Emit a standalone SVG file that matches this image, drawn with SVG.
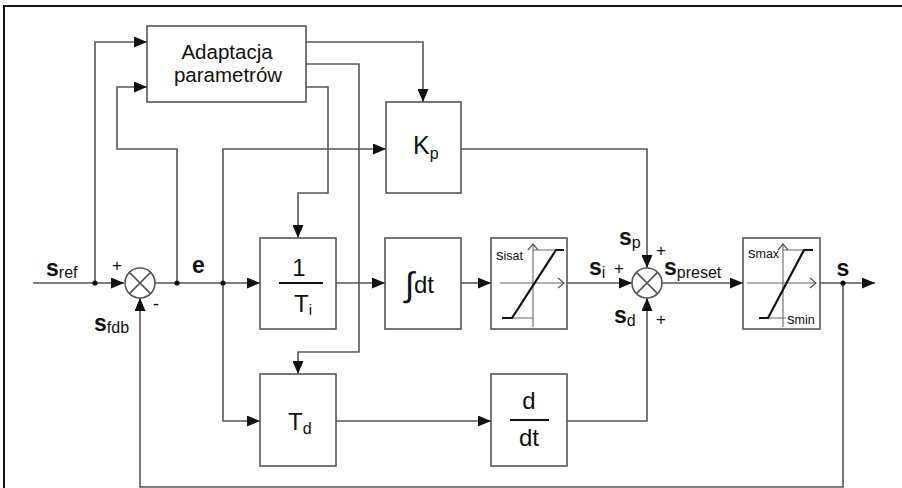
<svg xmlns="http://www.w3.org/2000/svg" width="902" height="488" viewBox="0 0 902 488">
<style>
.blk{fill:#fff;stroke:#5a5555;stroke-width:1.6}
.ln{fill:none;stroke:#5a5555;stroke-width:1.6}
.thin{fill:none;stroke:#6a6565;stroke-width:1.1}
.curve{fill:none;stroke:#111;stroke-width:2.2}
.t{font-family:"Liberation Sans",Arial,sans-serif;fill:#111}
.lab{font-family:"Liberation Sans",Arial,sans-serif;fill:#111;font-size:23px;font-weight:bold}
.sub{font-size:16px;font-weight:normal}
.dot{fill:#111}
</style>
<defs>
<marker id="ah" markerUnits="userSpaceOnUse" markerWidth="13" markerHeight="11" refX="13" refY="5.5" orient="auto">
<path d="M0,0 L13,5.5 L0,11 z" fill="#111"/>
</marker>
<marker id="oa" markerUnits="userSpaceOnUse" markerWidth="8" markerHeight="12" refX="7" refY="6" orient="auto">
<path d="M1,1 L7,6 L1,11" fill="none" stroke="#555" stroke-width="1.2"/>
</marker>
</defs>
<rect width="902" height="488" fill="#fff"/>
<path d="M4,488 V6 H902" fill="none" stroke="#111" stroke-width="2"/>

<g id="connectors">
<path class="ln" d="M33,283 H124" marker-end="url(#ah)"/>
<path class="ln" d="M95,283 V42 H147" marker-end="url(#ah)"/>
<path class="ln" d="M177,283 V149 H117 V87 H147" marker-end="url(#ah)"/>
<path class="ln" d="M155,283 H260" marker-end="url(#ah)"/>
<path class="ln" d="M223,283 V421 H260" marker-end="url(#ah)"/>
<path class="ln" d="M223,283 V149 H386" marker-end="url(#ah)"/>
<path class="ln" d="M306,42 H423 V102" marker-end="url(#ah)"/>
<path class="ln" d="M306,64 H359 V352 H298 V374" marker-end="url(#ah)"/>
<path class="ln" d="M306,87 H328 V193 H298 V238" marker-end="url(#ah)"/>
<path class="ln" d="M336,283 H385" marker-end="url(#ah)"/>
<path class="ln" d="M461,283 H491" marker-end="url(#ah)"/>
<path class="ln" d="M567,283 H632" marker-end="url(#ah)"/>
<path class="ln" d="M461,149 H647 V268" marker-end="url(#ah)"/>
<path class="ln" d="M336,421 H491" marker-end="url(#ah)"/>
<path class="ln" d="M567,421 H647 V298" marker-end="url(#ah)"/>
<path class="ln" d="M662,283 H743" marker-end="url(#ah)"/>
<path class="ln" d="M820,283 H875" marker-end="url(#ah)"/>
<path class="ln" d="M843,283 V487 H140 V298" marker-end="url(#ah)"/>
<circle class="dot" cx="95" cy="283" r="2.6"/>
<circle class="dot" cx="177" cy="283" r="2.6"/>
<circle class="dot" cx="223" cy="283" r="2.6"/>
<circle class="dot" cx="843" cy="283" r="2.6"/>
</g>

<g id="sum1">
<circle class="blk" cx="140" cy="283" r="15"/>
<path class="ln" d="M129.4,272.4 L150.6,293.6 M150.6,272.4 L129.4,293.6"/>
<text class="t" x="117" y="271" font-size="17" text-anchor="middle">+</text>
<text class="t" x="156" y="310" font-size="19" text-anchor="middle">-</text>
</g>

<g id="adaptacja">
<rect class="blk" x="147" y="26" width="159" height="76"/>
<text class="t" x="227" y="59" font-size="20.5" text-anchor="middle">Adaptacja</text>
<text class="t" x="228" y="82" font-size="20.5" text-anchor="middle">parametrów</text>
</g>

<g id="kp">
<rect class="blk" x="386" y="102" width="75" height="91"/>
<text class="t" x="413" y="154" font-size="25">K<tspan font-size="16" dy="5">p</tspan></text>
</g>

<g id="ti">
<rect class="blk" x="260" y="238" width="76" height="91"/>
<text class="t" x="299" y="276" font-size="24" text-anchor="middle">1</text>
<path d="M279,283 H323" stroke="#111" stroke-width="2"/>
<text class="t" x="294" y="312" font-size="24">T<tspan font-size="15" dy="3">i</tspan></text>
</g>

<g id="integral">
<rect class="blk" x="385" y="238" width="76" height="91"/>
<text class="t" x="405" y="296" font-size="34">∫</text>
<text class="t" x="414" y="293" font-size="24">dt</text>
</g>

<g id="sat1">
<rect class="blk" x="491" y="238" width="76" height="91"/>
<path class="thin" d="M500,283 H564" marker-end="url(#oa)"/>
<path class="thin" d="M533,327 V244" marker-end="url(#oa)"/>
<path class="thin" d="M533,250 H556 M512,318 H533"/>
<path class="curve" d="M502,318 H512 L556,250 H564"/>
<text class="t" x="496" y="260" font-size="15">s<tspan font-size="12.5">isat</tspan></text>
</g>

<g id="sum2">
<circle class="blk" cx="647" cy="283" r="15"/>
<path class="ln" d="M636.4,272.4 L657.6,293.6 M657.6,272.4 L636.4,293.6"/>
<text class="t" x="661" y="256" font-size="17" text-anchor="middle">+</text>
<text class="t" x="619" y="274" font-size="17" text-anchor="middle">+</text>
<text class="t" x="661" y="325" font-size="17" text-anchor="middle">+</text>
</g>

<g id="sat2">
<rect class="blk" x="743" y="238" width="77" height="91"/>
<path class="thin" d="M747,283 H816" marker-end="url(#oa)"/>
<path class="thin" d="M783,327 V244" marker-end="url(#oa)"/>
<path class="thin" d="M783,250 H804 M768,318 H786"/>
<path class="curve" d="M759,318 H768 L804,250 H813"/>
<text class="t" x="748" y="258" font-size="15">s<tspan font-size="12.5">max</tspan></text>
<text class="t" x="787" y="324" font-size="15">s<tspan font-size="12.5">min</tspan></text>
</g>

<g id="td">
<rect class="blk" x="260" y="374" width="76" height="92"/>
<text class="t" x="288" y="430" font-size="24">T<tspan font-size="16" dy="4">d</tspan></text>
</g>

<g id="ddt">
<rect class="blk" x="491" y="374" width="76" height="92"/>
<text class="t" x="529" y="409" font-size="24" text-anchor="middle">d</text>
<path d="M510,420 H549" stroke="#111" stroke-width="2"/>
<text class="t" x="529" y="446" font-size="24" text-anchor="middle">dt</text>
</g>

<g id="labels">
<text class="lab" x="46" y="276">s<tspan class="sub" dy="2">ref</tspan></text>
<text class="lab" x="94" y="331">s<tspan class="sub" dy="2">fdb</tspan></text>
<text class="lab" x="192" y="273">e</text>
<text class="lab" x="619" y="245">s<tspan class="sub" dy="3">p</tspan></text>
<text class="lab" x="589" y="275">s<tspan class="sub" dy="3">i</tspan></text>
<text class="lab" x="664" y="275">s<tspan class="sub" dy="3">preset</tspan></text>
<text class="lab" x="614" y="323">s<tspan class="sub" dy="3">d</tspan></text>
<text class="lab" x="843" y="276" text-anchor="middle">s</text>
</g>
</svg>
